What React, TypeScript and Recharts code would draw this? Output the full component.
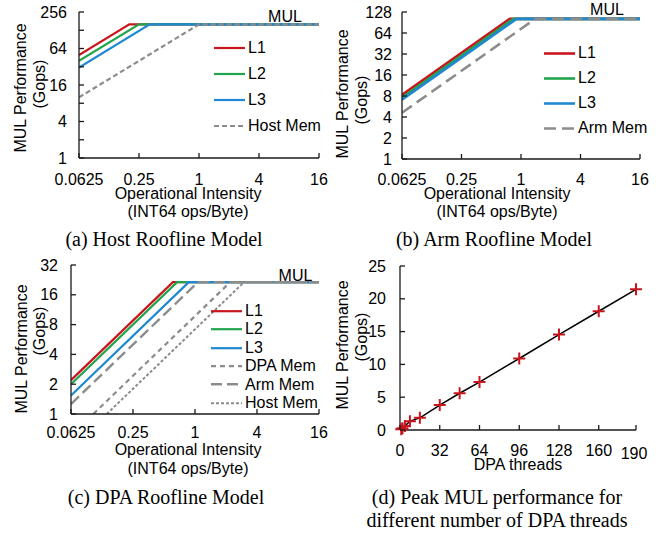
import { LineChart, Line, XAxis, YAxis, Legend } from "recharts";

const SANS = '"Liberation Sans", Arial, sans-serif';
const SERIF = '"Liberation Serif", "Times New Roman", serif';
const AXIS = "#1a1a1a";
const RED = "#c8161d";
const GREEN = "#21a44b";
const BLUE = "#1e88d2";
const GRAY = "#8c8c8c";

type Pt = { x: number; y: number };

const OI_TICKS = [0.0625, 0.25, 1, 4, 16];

// (a) Host roofline (Gops)
const HOST_Y_TICKS = [1, 2, 4, 8, 16, 32, 64, 128, 256];
const HOST_Y_SHOWN = [1, 4, 16, 64, 256];
const hostL1: Pt[] = [{ x: 0.0625, y: 50 }, { x: 0.2, y: 160 }, { x: 16, y: 160 }];
const hostL2: Pt[] = [{ x: 0.0625, y: 40 }, { x: 0.25, y: 160 }, { x: 16, y: 160 }];
const hostL3: Pt[] = [{ x: 0.0625, y: 31 }, { x: 0.32, y: 160 }, { x: 16, y: 160 }];
const hostMem: Pt[] = [{ x: 0.0625, y: 10 }, { x: 1, y: 160 }, { x: 16, y: 160 }];

// (b) Arm roofline
const ARM_Y_TICKS = [1, 2, 4, 8, 16, 32, 64, 128];
const armL1: Pt[] = [{ x: 0.0625, y: 8.3 }, { x: 0.77, y: 102 }, { x: 16, y: 102 }];
const armL2: Pt[] = [{ x: 0.0625, y: 7.6 }, { x: 0.84, y: 102 }, { x: 16, y: 102 }];
const armL3: Pt[] = [{ x: 0.0625, y: 7.1 }, { x: 0.9, y: 102 }, { x: 16, y: 102 }];
const armMem: Pt[] = [{ x: 0.0625, y: 4.6 }, { x: 1.39, y: 102 }, { x: 16, y: 102 }];

// (c) DPA roofline
const DPA_Y_TICKS = [1, 2, 4, 8, 16, 32];
const dpaL1: Pt[] = [{ x: 0.0625, y: 2.2 }, { x: 0.61, y: 21.5 }, { x: 16, y: 21.5 }];
const dpaL2: Pt[] = [{ x: 0.0625, y: 2.0 }, { x: 0.67, y: 21.5 }, { x: 16, y: 21.5 }];
const dpaL3: Pt[] = [{ x: 0.0625, y: 1.54 }, { x: 0.87, y: 21.5 }, { x: 16, y: 21.5 }];
const dpaMemDpa: Pt[] = [{ x: 0.103, y: 1 }, { x: 2.2, y: 21.5 }, { x: 16, y: 21.5 }];
const dpaMemArm: Pt[] = [{ x: 0.0625, y: 1.26 }, { x: 1.07, y: 21.5 }, { x: 16, y: 21.5 }];
const dpaMemHost: Pt[] = [{ x: 0.139, y: 1 }, { x: 3.0, y: 21.5 }, { x: 16, y: 21.5 }];

// (d) peak MUL vs DPA threads
const threads = [1, 2, 4, 8, 16, 32, 48, 64, 96, 128, 160, 190];
const gops = [0.11, 0.28, 0.62, 1.35, 1.85, 3.8, 5.6, 7.3, 10.9, 14.55, 18.1, 21.45];
const THREAD_TICKS = [0, 32, 64, 96, 128, 160, 190];
const GOPS_TICKS = [0, 5, 10, 15, 20, 25];

type Series = { name: string; data: Pt[]; color: string; width: number; dash?: string };

const W = 331;
const H = 230;

function XTick(props: any) {
  const { x, y, payload, gap, nudge } = props;
  const axisY = y - gap;
  const n = nudge && nudge[payload.value] ? nudge[payload.value] : [0, 0];
  return (
    <g>
      <line x1={x} x2={x} y1={axisY} y2={axisY - 5} stroke={AXIS} strokeWidth={1.3} />
      <text x={x + n[0]} y={y + n[1]} dy="0.35em" textAnchor="middle" fontSize={16} fontFamily={SANS} fill="#000">
        {payload.value}
      </text>
    </g>
  );
}

function YTick(props: any) {
  const { x, y, payload, gap, shown } = props;
  const axisX = x + gap;
  const show = !shown || shown.includes(payload.value);
  return (
    <g>
      <line x1={axisX} x2={axisX + 5} y1={y} y2={y} stroke={AXIS} strokeWidth={1.3} />
      {show && (
        <text x={x} y={y} dy="0.35em" textAnchor="end" fontSize={16} fontFamily={SANS} fill="#000">
          {payload.value}
        </text>
      )}
    </g>
  );
}

function LegendRows({ series, rowH, lineW }: { series: Series[]; rowH: number; lineW: number }) {
  return (
    <div style={{ fontFamily: SANS, fontSize: 16, color: "#000" }}>
      {series.map((s) => (
        <div key={s.name} style={{ display: "flex", alignItems: "center", height: rowH }}>
          <svg width={lineW + 3} height={rowH} style={{ display: "block" }}>
            <line x1={0} x2={lineW} y1={rowH / 2} y2={rowH / 2} stroke={s.color} strokeWidth={s.width} strokeDasharray={s.dash} />
          </svg>
          <span style={{ whiteSpace: "nowrap", lineHeight: 1 }}>{s.name}</span>
        </div>
      ))}
    </div>
  );
}

type Txt = { x: number; y: number; s: string; rot?: boolean };

function Texts({ items }: { items: Txt[] }) {
  return (
    <g>
      {items.map((t) => (
        <text
          key={t.s}
          x={t.x}
          y={t.y}
          dy="0.35em"
          textAnchor="middle"
          fontSize={16}
          fontFamily={SANS}
          fill="#000"
          transform={t.rot ? `rotate(-90 ${t.x} ${t.y})` : undefined}
        >
          {t.s}
        </text>
      ))}
    </g>
  );
}

type Plot = { left: number; top: number; right: number; bottom: number };

type RoofProps = {
  series: Series[];
  yTicks: number[];
  yShown?: number[];
  plot: Plot;
  xGap: number;
  yGap: number;
  legend: { left: number; top: number; rowH: number; lineW: number };
  texts: Txt[];
};

function Roofline({ series, yTicks, yShown, plot, xGap, yGap, legend, texts }: RoofProps) {
  return (
    <LineChart width={W} height={H} margin={{ top: plot.top, right: W - plot.right, left: 0, bottom: 0 }}>
      <XAxis
        type="number"
        dataKey="x"
        scale="log"
        domain={[0.0625, 16]}
        ticks={OI_TICKS}
        interval={0}
        allowDataOverflow
        height={H - plot.bottom}
        tickSize={0}
        tickMargin={xGap}
        stroke={AXIS}
        strokeWidth={1.3}
        tick={(p: any) => <XTick {...p} gap={xGap} />}
        label={() => <Texts items={texts} />}
      />
      <YAxis
        type="number"
        scale="log"
        domain={[yTicks[0], yTicks[yTicks.length - 1]]}
        ticks={yTicks}
        interval={0}
        allowDataOverflow
        width={plot.left}
        tickSize={0}
        tickMargin={yGap}
        stroke={AXIS}
        strokeWidth={1.3}
        tick={(p: any) => <YTick {...p} gap={yGap} shown={yShown} />}
      />
      {series.map((s) => (
        <Line
          key={s.name}
          data={s.data}
          dataKey="y"
          name={s.name}
          type="linear"
          stroke={s.color}
          strokeWidth={s.width}
          strokeDasharray={s.dash}
          dot={false}
          isAnimationActive={false}
        />
      ))}
      <Legend
        layout="vertical"
        align="center"
        verticalAlign="middle"
        wrapperStyle={{ left: legend.left, top: legend.top, width: "auto", height: "auto" }}
        content={() => <LegendRows series={series} rowH={legend.rowH} lineW={legend.lineW} />}
      />
    </LineChart>
  );
}

const hostSeries: Series[] = [
  { name: "L1", data: hostL1, color: RED, width: 2.2 },
  { name: "L2", data: hostL2, color: GREEN, width: 2.2 },
  { name: "L3", data: hostL3, color: BLUE, width: 2.2 },
  { name: "Host Mem", data: hostMem, color: GRAY, width: 2.2, dash: "5 3" },
];

const armSeries: Series[] = [
  { name: "L1", data: armL1, color: RED, width: 2.6 },
  { name: "L2", data: armL2, color: GREEN, width: 2.6 },
  { name: "L3", data: armL3, color: BLUE, width: 2.6 },
  { name: "Arm Mem", data: armMem, color: GRAY, width: 2.6, dash: "12 6" },
];

const dpaSeries: Series[] = [
  { name: "L1", data: dpaL1, color: RED, width: 2.2 },
  { name: "L2", data: dpaL2, color: GREEN, width: 2.2 },
  { name: "L3", data: dpaL3, color: BLUE, width: 2.2 },
  { name: "DPA Mem", data: dpaMemDpa, color: GRAY, width: 2.2, dash: "5 4" },
  { name: "Arm Mem", data: dpaMemArm, color: GRAY, width: 2.4, dash: "11 5" },
  { name: "Host Mem", data: dpaMemHost, color: GRAY, width: 2, dash: "3 2" },
];

const threadData = threads.map((t, i) => ({ t, g: gops[i] }));

function PlusDot(props: any) {
  const { cx, cy } = props;
  if (cx == null || cy == null) return <g />;
  return <path d={`M${cx - 6},${cy}H${cx + 6}M${cx},${cy - 6}V${cy + 6}`} stroke={RED} strokeWidth={2} fill="none" />;
}

function ThreadsChart() {
  const plot = { left: 69, top: 16, right: 305, bottom: 180 };
  const texts: Txt[] = [
    { x: 11, y: 95, s: "MUL Performance", rot: true },
    { x: 30.5, y: 87, s: "(Gops)", rot: true },
    { x: 187, y: 214, s: "DPA threads" },
  ];
  return (
    <LineChart width={W} height={H} data={threadData} margin={{ top: plot.top, right: W - plot.right, left: 0, bottom: 0 }}>
      <XAxis
        type="number"
        dataKey="t"
        domain={[0, 190]}
        ticks={THREAD_TICKS}
        interval={0}
        height={H - plot.bottom}
        tickSize={0}
        tickMargin={20}
        stroke={AXIS}
        strokeWidth={1.3}
        tick={(p: any) => <XTick {...p} gap={20} nudge={{ 190: [-2, 3] }} />}
        label={() => <Texts items={texts} />}
      />
      <YAxis
        type="number"
        domain={[0, 25]}
        ticks={GOPS_TICKS}
        interval={0}
        width={plot.left}
        tickSize={0}
        tickMargin={14}
        stroke={AXIS}
        strokeWidth={1.3}
        tick={(p: any) => <YTick {...p} gap={14} />}
      />
      <Line dataKey="g" type="linear" stroke="#000" strokeWidth={1.5} dot={PlusDot} isAnimationActive={false} />
    </LineChart>
  );
}

const box = (left: number, top: number): React.CSSProperties => ({ position: "absolute", left, top, width: W, height: H });

export default function App() {
  return (
    <div style={{ position: "absolute", left: 0, top: 0, width: 662, height: 533, background: "#fff" }}>
      <div style={box(0, 0)}>
        <Roofline
          series={hostSeries}
          yTicks={HOST_Y_TICKS}
          yShown={HOST_Y_SHOWN}
          plot={{ left: 79, top: 12, right: 319, bottom: 158 }}
          xGap={21.5}
          yGap={12}
          legend={{ left: 214, top: 35, rowH: 26, lineW: 31 }}
          texts={[
            { x: 20.5, y: 88, s: "MUL Performance", rot: true },
            { x: 39, y: 84, s: "(Gops)", rot: true },
            { x: 188, y: 193, s: "Operational Intensity" },
            { x: 188, y: 211, s: "(INT64 ops/Byte)" },
            { x: 285, y: 16, s: "MUL" },
          ]}
        />
      </div>
      <div style={box(331, 0)}>
        <Roofline
          series={armSeries}
          yTicks={ARM_Y_TICKS}
          plot={{ left: 71, top: 12, right: 309, bottom: 159 }}
          xGap={20.7}
          yGap={10}
          legend={{ left: 213, top: 40.5, rowH: 25, lineW: 31 }}
          texts={[
            { x: 11, y: 94, s: "MUL Performance", rot: true },
            { x: 30.5, y: 100, s: "(Gops)", rot: true },
            { x: 166, y: 193, s: "Operational Intensity" },
            { x: 166, y: 211, s: "(INT64 ops/Byte)" },
            { x: 276, y: 9, s: "MUL" },
          ]}
        />
      </div>
      <div style={box(0, 250)}>
        <Roofline
          series={dpaSeries}
          yTicks={DPA_Y_TICKS}
          plot={{ left: 71, top: 15, right: 319, bottom: 164 }}
          xGap={18.5}
          yGap={13}
          legend={{ left: 211, top: 51.8, rowH: 18.4, lineW: 31 }}
          texts={[
            { x: 21, y: 99, s: "MUL Performance", rot: true },
            { x: 39, y: 81, s: "(Gops)", rot: true },
            { x: 188, y: 199, s: "Operational Intensity" },
            { x: 188, y: 218, s: "(INT64 ops/Byte)" },
            { x: 295.5, y: 25, s: "MUL" },
          ]}
        />
      </div>
      <div style={box(331, 250)}>
        <ThreadsChart />
      </div>
      <svg width={662} height={533} style={{ position: "absolute", left: 0, top: 0, pointerEvents: "none" }}>
        <g fontFamily={SERIF} fontSize={20} fill="#000" textAnchor="middle">
          <text x={164} y={246}>(a) Host Roofline Model</text>
          <text x={494} y={246}>(b) Arm Roofline Model</text>
          <text x={166} y={504}>(c) DPA Roofline Model</text>
          <text x={497} y={504}>(d) Peak MUL performance for</text>
          <text x={497} y={527}>different number of DPA threads</text>
        </g>
      </svg>
    </div>
  );
}
